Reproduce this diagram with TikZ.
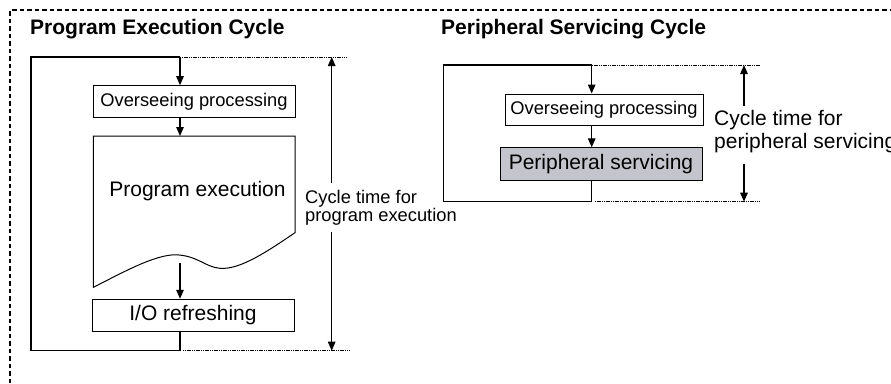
\documentclass[tikz,border=0pt]{standalone}
\usepackage{fontspec}
\setmainfont{Liberation Sans}
\usetikzlibrary{arrows.meta}
\definecolor{srvgray}{HTML}{C4C5CC}
\tikzset{
  cycleline/.style={line width=1.2pt},
  procbox/.style={draw, line width=1pt, inner sep=0pt, align=center},
  flow/.style={-{Triangle[length=9pt,width=7.5pt]}, line width=1.2pt},
  extline/.style={dash pattern=on 1.2pt off 0.6pt, line width=0.8pt},
  frame/.style={dash pattern=on 4.5pt off 3pt, line width=1.2pt},
  heading/.style={font=\fontsize{21}{24}\selectfont\bfseries, anchor=base west, inner sep=0pt},
  lblsmall/.style={font=\fontsize{18.3}{18.4}\selectfont},
  lblbig/.style={font=\fontsize{21}{23}\selectfont},
}
\begin{document}
\begin{tikzpicture}[x=1pt, y=-1pt]
\useasboundingbox (0,0) rectangle (891,383);

% Outer dashed frame
\draw[frame] (10,383) -- (10,10) -- (891,10);

\node[heading] (ptitle) at (30,34) {Program Execution Cycle};
\node[heading] (stitle) at (441,34) {Peripheral Servicing Cycle};

% Program execution cycle
\coordinate (pleft) at (31,57);
\coordinate (ptop) at (180,57);
\coordinate (pbot) at (180,350.7);
\coordinate (ptopext) at (347,57);
\coordinate (pbotext) at (350,350.7);
\coordinate (pwave) at (180,263);

\node[procbox, lblsmall, minimum width=202pt, minimum height=31.6pt] (pover) at (194,101.5) {Overseeing processing};
\node[procbox, lblbig, minimum width=202pt, minimum height=32.4pt] (pio) at (193,315.5) {I/O refreshing};

\draw[line width=1pt] (93.3,136) coordinate (pexec) -- (295,136) -- (295,232.7)
  .. controls (268,251) and (240,270) .. (220,268.3)
  .. controls (205,267) and (198,256) .. (176.7,254.8)
  .. controls (155,254) and (120,274) .. (93.3,287.3) -- cycle;
\node[lblbig, anchor=base] (pexectext) at (197.5,196.5) {Program execution};

\draw[flow] (ptop) -- (ptop |- pover.north);
\draw[flow] (pover.south -| ptop) -- (pexec -| ptop);
\draw[flow] (pwave) -- (pio.north -| pwave);
\draw[cycleline] (pio.south -| pbot) -- ([yshift=2pt]pbot) -- (pbot) -- (pbot -| pleft) -- (pleft) -- (ptop);
\draw[extline] (ptop) -- (ptopext);
\draw[extline] ([xshift=3pt]pbot) -- (pbotext);

\coordinate (pdimtop) at (331.7,57);
\coordinate (pdimgapa) at (331.7,183);
\coordinate (pdimgapb) at (331.7,231.7);
\coordinate (pdimbot) at (331.7,350.7);
\draw[flow] (pdimgapa) -- (pdimtop);
\draw[flow] (pdimgapb) -- (pdimbot);
\node[lblsmall, align=left, anchor=north west, inner sep=0pt] (ptime) at (305,190) {Cycle time for\\program execution};

% Peripheral servicing cycle
\coordinate (sleft) at (443.3,65);
\coordinate (stop) at (591.7,65);
\coordinate (sbot) at (591.7,201.7);
\coordinate (stopext) at (760,65);
\coordinate (sbotext) at (760,201.7);

\node[procbox, lblsmall, minimum width=198pt, minimum height=31pt] (sover) at (604,109.5) {Overseeing processing};
\node[procbox, lblbig, fill=srvgray, minimum width=202pt, minimum height=32.3pt] (sserv) at (601,164) {Peripheral servicing};

\draw[flow] (stop) -- (stop |- sover.north);
\draw[flow] (sover.south -| stop) -- (sserv.north -| stop);
\draw[cycleline] (sserv.south -| sbot) -- (sbot) -- (sbot -| sleft) -- (sleft) -- (stop);
\draw[extline] (stop) -- (stopext);
\draw[extline] ([xshift=3pt]sbot) -- (sbotext);

\coordinate (sdimtop) at (744,65);
\coordinate (sdimgapa) at (744,106);
\coordinate (sdimgapb) at (744,163.5);
\coordinate (sdimbot) at (744,201.7);
\draw[flow] (sdimgapa) -- (sdimtop);
\draw[flow] (sdimgapb) -- (sdimbot);
\node[lblbig, align=left, anchor=north west, inner sep=0pt] (stime) at (714,110) {Cycle time for\\peripheral servicing};

\end{tikzpicture}
\end{document}
